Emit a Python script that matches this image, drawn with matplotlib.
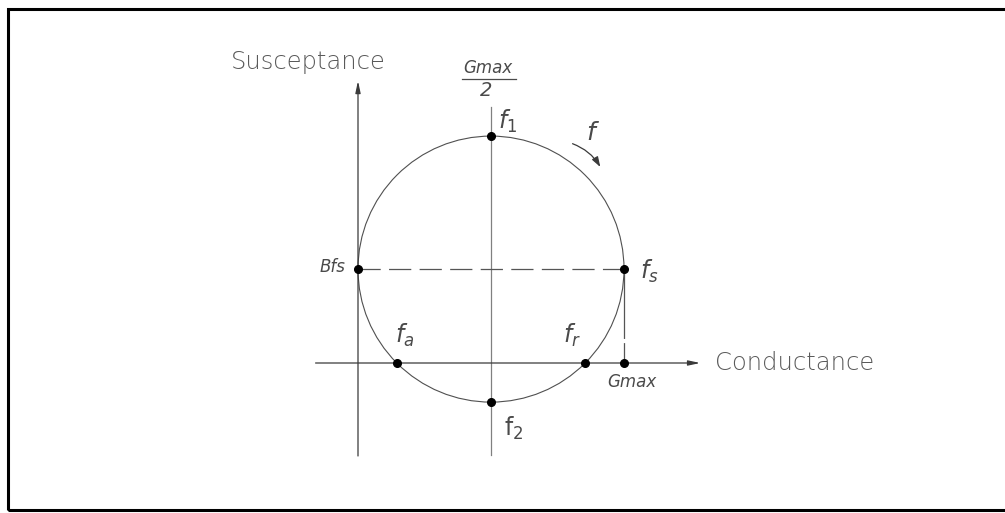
import numpy as np
import matplotlib.pyplot as plt
from matplotlib.patches import Circle, Rectangle, FancyArrowPatch

plt.rcParams['lines.scale_dashes'] = False

# данні діаграми (умовні одиниці провідності)
gmax = 1.0          # максимальна провідність
bfs = 0.353         # сприйнятливість у точці fs
point_names = ['f1', 'f2', 'fa', 'fr', 'fs', 'Bfs', 'Gmax']

# центр і радіус кола провідності
g0 = gmax / 2
r = gmax / 2
b_half = np.sqrt(r ** 2 - bfs ** 2)
points = {
    'f1': (g0, bfs + r),
    'f2': (g0, bfs - r),
    'fa': (g0 - b_half, 0.0),
    'fr': (g0 + b_half, 0.0),
    'fs': (gmax, bfs),
    'Bfs': (0.0, bfs),
    'Gmax': (gmax, 0.0),
}

px = 266.0  # пікселів на одиницю
fig = plt.figure(figsize=(10.05, 5.13), dpi=100)
ax = fig.add_axes([0, 0, 1, 1])
ax.set_xlim(-358 / px, (1005 - 358) / px)
ax.set_ylim((363 - 513) / px, 363 / px)
ax.set_aspect('equal')
ax.axis('off')

txt = '#4a4a4a'
ln = '#3a3a3a'

# рамка
fig.add_artist(Rectangle((8 / 1005, 3 / 513), 1.1, 501 / 513, transform=fig.transFigure,
                         fill=False, lw=2.2, ec='black'))

# осі
ax.annotate('', xy=(0, 1.071), xytext=(0, -0.36),
            arrowprops=dict(arrowstyle='-|>,head_length=0.7,head_width=0.15', color=ln, lw=0.9))
ax.annotate('', xy=(1.297, 0), xytext=(-0.17, 0),
            arrowprops=dict(arrowstyle='-|>,head_length=0.7,head_width=0.15', color=ln, lw=0.9))
ax.plot([g0, g0], [-0.346, 0.962], color='#808080', lw=0.9)

# коло
ax.add_patch(Circle((g0, bfs), r, fill=False, ec='#505050', lw=0.8))

# пунктирні лінії
ax.plot([0, gmax], [bfs, bfs], color='#555555', lw=0.9, dashes=(16, 6))
ax.plot([gmax, gmax], [bfs, 0], color='#555555', lw=0.9, dashes=(50, 3))

# точки
xs = [points[n][0] for n in point_names]
ys = [points[n][1] for n in point_names]
ax.plot(xs, ys, 'o', color='black', ms=5.5, zorder=5)

# підписи осей
ax.annotate('Susceptance', xy=(0, 1.071), xytext=(-50, 16), textcoords='offset pixels',
            ha='center', va='center', fontsize=17.5, color='#5a5a5a', fontweight='light')
ax.annotate('Conductance', xy=(1.297, 0), xytext=(12, 0), textcoords='offset pixels',
            ha='left', va='center', fontsize=17.5, color='#5a5a5a', fontweight='light')

# Gmax / 2
ax.annotate('Gmax', xy=(g0, 0.962), xytext=(-3, 39), textcoords='offset pixels',
            ha='center', va='center', fontsize=12, style='italic', color=txt)
ax.annotate('2', xy=(g0, 0.962), xytext=(-5, 17), textcoords='offset pixels',
            ha='center', va='center', fontsize=14, style='italic', color=txt)
ax.plot([g0 - 29 / px, g0 + 25 / px], [0.962 + 28 / px] * 2, color=txt, lw=0.9)

# підписи точок
labels = {
    'f1': (r'$f_1$', (17, 15), 'center'),
    'f2': (r'$\mathrm{f}_2$', (23, -26), 'center'),
    'fa': (r'$f_a$', (8, 28), 'center'),
    'fr': (r'$f_r$', (-13, 28), 'center'),
    'fs': (r'$f_s$', (16, -2), 'left'),
}
for name, (lab, off, ha) in labels.items():
    ax.annotate(lab, xy=points[name], xytext=off, textcoords='offset pixels',
                ha=ha, va='center', fontsize=17, color=txt)
ax.annotate('Bfs', xy=points['Bfs'], xytext=(-13, 2), textcoords='offset pixels',
            ha='right', va='center', fontsize=12, style='italic', color=txt)
ax.annotate('Gmax', xy=points['Gmax'], xytext=(8, -19), textcoords='offset pixels',
            ha='center', va='center', fontsize=12, style='italic', color=txt)

# стрілка напрямку частоти
a0, a1 = np.radians(58), np.radians(42)
rr = 1.12 * r
arrow = FancyArrowPatch((g0 + rr * np.cos(a0), bfs + rr * np.sin(a0)),
                        (g0 + rr * np.cos(a1), bfs + rr * np.sin(a1)),
                        connectionstyle='arc3,rad=-0.2',
                        arrowstyle='-|>,head_length=6,head_width=2', color=ln, lw=0.9)
ax.add_patch(arrow)
a2 = np.radians(53)
ax.text(g0 + 1.28 * r * np.cos(a2), bfs + 1.28 * r * np.sin(a2), r'$f$',
        ha='center', va='center', fontsize=18, color=txt)

fig.savefig('out.png', dpi=100)
